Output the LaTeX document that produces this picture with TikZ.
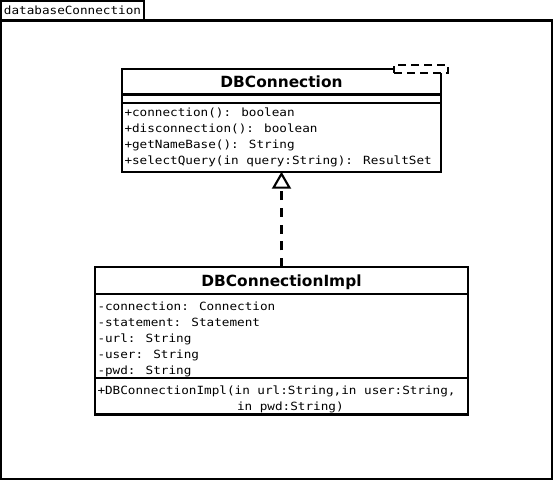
\documentclass[tikz,border=0pt]{standalone}
\usepackage{fontspec}
\usetikzlibrary{positioning, arrows.meta}
\newfontfamily\umlmono[FakeStretch=1.12]{DejaVu Sans Mono}
\newfontfamily\umlsans{DejaVu Sans}

\begin{document}
\begin{tikzpicture}[x=1pt, y=-1pt, line width=2.1pt]
    % Define node styles
    \tikzstyle{pkgtab} = [draw, inner sep=0pt, outer sep=0pt, minimum width=143pt, minimum height=19.5pt, text height=10.5pt, text depth=2.5pt, font=\umlmono\fontsize{11.3}{16}\selectfont, anchor=north west]
    \tikzstyle{pkgbody} = [draw, inner sep=0pt, outer sep=0pt, minimum width=551pt, minimum height=458.5pt, anchor=north west]
    \tikzstyle{compart} = [draw, inner sep=0pt, outer sep=0pt, anchor=north west]
    \tikzstyle{title} = [compart, text height=11.7pt, text depth=0pt, font=\umlsans\bfseries\fontsize{15.4}{18}\selectfont]
    \tikzstyle{member} = [inner sep=0pt, outer sep=0pt, text height=12pt, text depth=4pt, font=\umlmono\fontsize{11.3}{16}\selectfont, anchor=north west]
    \tikzstyle{tmpl} = [draw, dash pattern=on 8pt off 5pt, fill=white, inner sep=0pt, outer sep=0pt, minimum width=54pt, minimum height=8pt, anchor=north east]
    \tikzstyle{realize} = [dash pattern=on 9pt off 7.7pt, -{Triangle[open, width=19pt, length=17pt]}]

    \useasboundingbox (0,0) rectangle (556,483);

    % Package frame with its tab
    \node[pkgtab] (pkg) at (1,1) {databaseConnection};
    \node[pkgbody] (pkgframe) at (pkg.south west) {};

    % Interface DBConnection (title, empty attributes, operations)
    \node[title, minimum width=319pt, minimum height=25.5pt] (conn) at (122,69) {DBConnection};
    \node[compart, minimum width=319pt, minimum height=8.8pt, below=0pt of conn] (connattr) {};
    \node[compart, minimum width=319pt, minimum height=68.4pt, below=0pt of connattr] (connops) {};
    \node[tmpl] (conntmpl) at ([xshift=7pt, yshift=4pt]conn.north east) {};

    \node[member] (connop1) at ([xshift=2.5pt, yshift=-1.5pt]connops.north west) {+connection(): boolean};
    \node[member, below right=0pt of connop1.south west] (connop2) {+disconnection(): boolean};
    \node[member, below right=0pt of connop2.south west] (connop3) {+getNameBase(): String};
    \node[member, below right=0pt of connop3.south west] (connop4) {+selectQuery(in query:String): ResultSet};

    % Class DBConnectionImpl
    \node[title, minimum width=373pt, minimum height=27pt] (impl) at (95,267) {DBConnectionImpl};
    \node[compart, minimum width=373pt, minimum height=84.3pt, below=0pt of impl] (implattr) {};
    \node[compart, minimum width=373pt, minimum height=36.2pt, below=0pt of implattr] (implops) {};

    \node[member] (implattr1) at ([xshift=2.5pt, yshift=-4.7pt]implattr.north west) {-connection: Connection};
    \node[member, below right=0pt of implattr1.south west] (implattr2) {-statement: Statement};
    \node[member, below right=0pt of implattr2.south west] (implattr3) {-url: String};
    \node[member, below right=0pt of implattr3.south west] (implattr4) {-user: String};
    \node[member, below right=0pt of implattr4.south west] (implattr5) {-pwd: String};

    \node[member] (implop1) at ([xshift=2.5pt, yshift=-4pt]implops.north west) {+DBConnectionImpl(in url:String,in user:String,};
    \node[member] (implop2) at ([xshift=139.5pt]implop1.south west) {in pwd:String)};

    % Realization arrow
    \draw[realize] (impl.north) -- (connops.south);

\end{tikzpicture}
\end{document}
